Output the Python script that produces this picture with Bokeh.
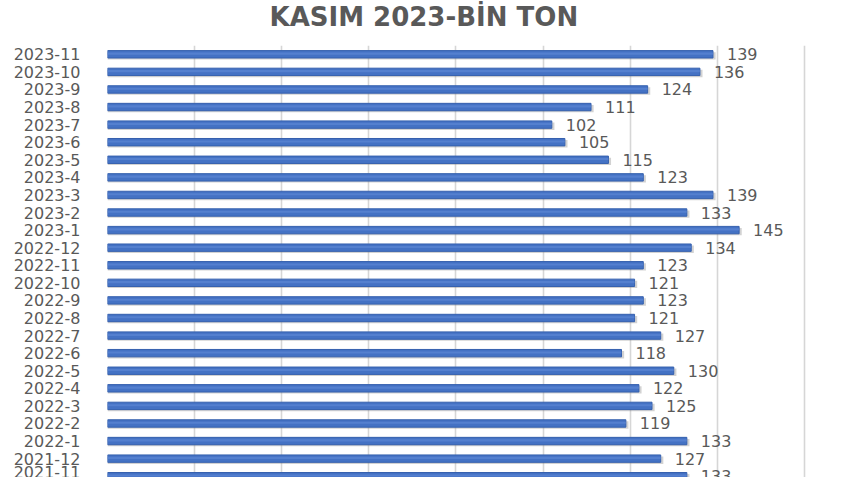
from bokeh.plotting import figure
from bokeh.models import ColumnDataSource, Range1d, FixedTicker, LinearAxis, Title
from bokeh.transform import dodge
from bokeh.core.properties import value
from bokeh.embed import file_html
from bokeh.resources import INLINE

title_text = "KASIM 2023-BİN TON"
months = ["2023-11", "2023-10", "2023-9", "2023-8", "2023-7", "2023-6", "2023-5",
          "2023-4", "2023-3", "2023-2", "2023-1", "2022-12", "2022-11", "2022-10",
          "2022-9", "2022-8", "2022-7", "2022-6", "2022-5", "2022-4", "2022-3",
          "2022-2", "2022-1", "2021-12", "2021-11"]
tons = [139, 136, 124, 111, 102, 105, 115, 123, 139, 133, 145, 134, 123, 121,
        123, 121, 127, 118, 130, 122, 125, 119, 133, 127, 133]
x_ticks = [0, 20, 40, 60, 80, 100, 120, 140, 160]

W, H = 847, 477
LEFT, TOP = 107, 45
n = len(months)
pos = [n - 1 - i for i in range(n)]
src = ColumnDataSource(dict(y=pos, v=tons, lab=[str(t) for t in tons]))

px_per_unit = 4.356
row_px = 17.58
frame_h = H - TOP
p = figure(width=W, height=H, output_backend="svg", toolbar_location=None,
           x_range=Range1d(0, (W - LEFT) / px_per_unit),
           y_range=Range1d(n - 0.5 - frame_h / row_px, n - 0.5),
           x_axis_location=None, y_axis_location=None,
           min_border_left=LEFT, min_border_right=0, min_border_top=TOP, min_border_bottom=0)
p.outline_line_color = None
p.background_fill_color = "white"
p.border_fill_color = "white"

p.xgrid.ticker = FixedTicker(ticks=x_ticks)
p.xgrid.grid_line_color = "#d6d6d6"
p.xgrid.grid_line_width = 1.6
p.ygrid.visible = False

# shadow
p.hbar(y=dodge("y", -0.09), right=dodge("v", 0.6), left=0, height=0.42, source=src,
       fill_color="#7f7f7f", fill_alpha=0.35, line_color=None)
# bars
p.hbar(y="y", right="v", left=0, height=0.42, source=src,
       fill_color="#4472C4", line_color="#3560AE", line_width=1)
p.hbar(y=dodge("y", 0.04), right="v", left=0, height=0.12, source=src,
       fill_color="#5b86d4", fill_alpha=0.7, line_color=None)

p.text(x="v", y="y", text="lab", source=src, x_offset=14,
       text_font=value("DejaVu Sans"), text_font_size="16px", text_color="#595959",
       text_baseline="middle", text_align="left")

yax = LinearAxis(ticker=FixedTicker(ticks=pos),
                 major_label_overrides={pp: m for pp, m in zip(pos, months)})
yax.axis_line_color = None
yax.major_tick_line_color = None
yax.minor_tick_line_color = None
yax.major_label_standoff = 21
yax.major_label_text_font = "DejaVu Sans"
yax.major_label_text_font_size = "16px"
yax.major_label_text_color = "#595959"
p.add_layout(yax, "left")

spacer = Title(text=" ", text_font_size="1px", standoff=8)
p.add_layout(spacer, "above")
t = Title(text=title_text, align="left", offset=162, text_font="DejaVu Sans",
          text_font_size="26px", text_font_style="bold", text_color="#595959",
          standoff=2, vertical_align="top")
p.add_layout(t, "above")

open("out.html", "w").write(file_html(p, INLINE))
